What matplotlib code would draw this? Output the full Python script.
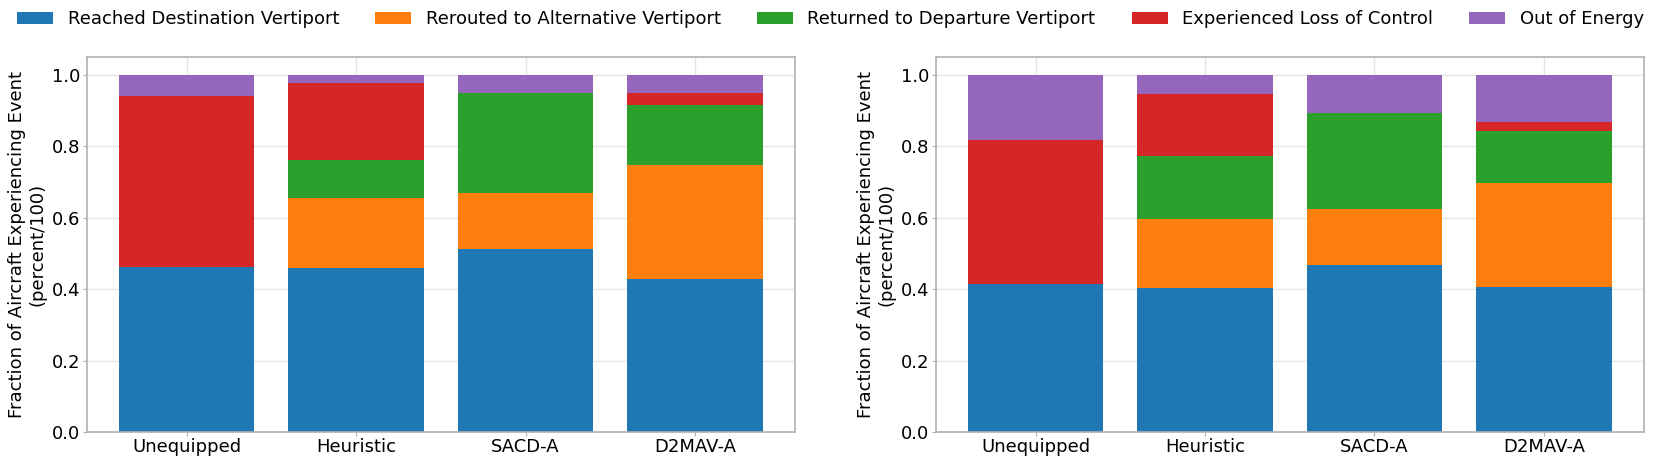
import numpy as np
import matplotlib
matplotlib.use("Agg")
import matplotlib.pyplot as plt

# ── Data (fractions) ──────────────────────────────────────────────────────────
methods = ["Unequipped", "Heuristic", "SACD-A", "D2MAV-A"]
events = ["Reached Destination Vertiport", "Rerouted to Alternative Vertiport",
          "Returned to Departure Vertiport", "Experienced Loss of Control",
          "Out of Energy"]
colors = ["#1f77b4", "#ff7f0e", "#2ca02c", "#d62728", "#9467bd"]

# left panel
left_reached   = [0.462, 0.460, 0.514, 0.429]
left_rerouted  = [0.000, 0.197, 0.155, 0.318]
left_returned  = [0.000, 0.104, 0.281, 0.168]
left_loss      = [0.480, 0.217, 0.000, 0.035]
left_energy    = [0.058, 0.022, 0.050, 0.050]

# right panel
right_reached  = [0.416, 0.404, 0.468, 0.406]
right_rerouted = [0.000, 0.192, 0.156, 0.293]
right_returned = [0.000, 0.178, 0.271, 0.144]
right_loss     = [0.401, 0.174, 0.000, 0.026]
right_energy   = [0.183, 0.052, 0.105, 0.131]

left_series = [left_reached, left_rerouted, left_returned, left_loss, left_energy]
right_series = [right_reached, right_rerouted, right_returned, right_loss, right_energy]

plt.rcParams["font.family"] = "DejaVu Sans"
plt.rcParams["font.size"] = 13

fig = plt.figure(figsize=(16.61, 4.57), dpi=100)
ax_l = fig.add_axes([0.0522, 0.0547, 0.4264, 0.820])
ax_r = fig.add_axes([0.5633, 0.0547, 0.4264, 0.820])

x = np.arange(len(methods))


def draw_panel(ax, series):
    bottom = np.zeros(len(methods))
    handles = []
    for vals, col, lab in zip(series, colors, events):
        h = ax.bar(x, vals, width=0.8, bottom=bottom, color=col, label=lab,
                   zorder=2)
        handles.append(h)
        bottom = bottom + np.array(vals)
    ax.set_xticks(x)
    ax.set_xticklabels(methods)
    ax.set_yticks([0.0, 0.2, 0.4, 0.6, 0.8, 1.0])
    ax.set_ylim(0, 1.05)
    ax.set_ylabel("Fraction of Aircraft Experiencing Event\n(percent/100)",
                  fontsize=13, labelpad=4)
    ax.grid(True, color="#e5e5e5", lw=1.0, zorder=0)
    ax.set_axisbelow(True)
    ax.tick_params(length=3, width=0.8, color="#b0b0b0", pad=1.5, labelsize=13)
    for sp in ax.spines.values():
        sp.set_color("#b0b0b0")
        sp.set_linewidth(1.2)
    return handles


handles = draw_panel(ax_l, left_series)
draw_panel(ax_r, right_series)

fig.legend(handles, events, loc="center", bbox_to_anchor=(0.5, 0.958),
           ncol=5, frameon=False, fontsize=13, handlelength=2.0,
           columnspacing=2.0)

fig.savefig("out.png", dpi=100)
